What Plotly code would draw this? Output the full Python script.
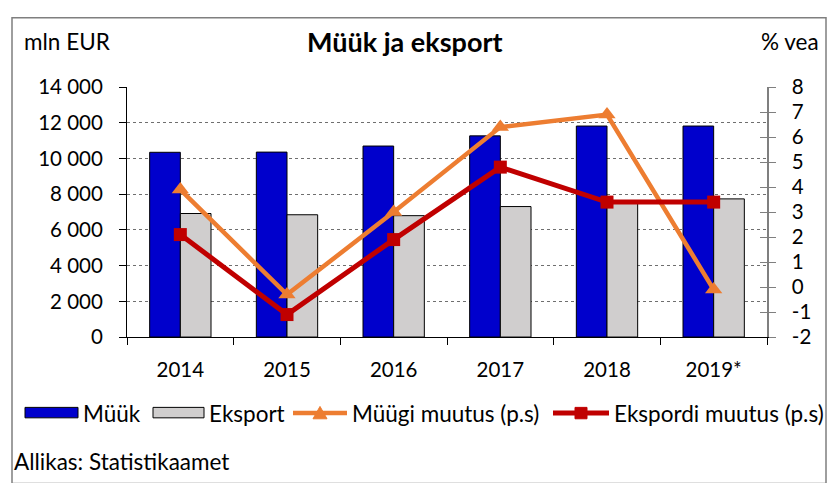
import plotly.graph_objects as go

years = ["2014", "2015", "2016", "2017", "2018", "2019*"]
muuk = [10350, 10360, 10700, 11270, 11820, 11820]
eksport = [6920, 6850, 6800, 7310, 7500, 7740]
muugi_muutus = [3.9, -0.3, 3.0, 6.4, 6.9, -0.1]
ekspordi_muutus = [2.1, -1.1, 1.9, 4.8, 3.4, 3.4]

left_ticks = [0, 2000, 4000, 6000, 8000, 10000, 12000, 14000]
left_ticktext = ["0", "2 000", "4 000", "6 000", "8 000", "10 000", "12 000", "14 000"]
right_ticks = [-2, -1, 0, 1, 2, 3, 4, 5, 6, 7, 8]
right_ticktext = ["-2", "-1", "0", "1", "2", "3", "4", "5", "6", "7", "8"]

W, H = 830, 483
FONT = "Lato"
TXT = 22.5
NUM = 20.5
BLUE = "#0000CC"
GRAY = "#D0CECE"
ORANGE = "#ED7D31"
RED = "#C00000"


def px(x):
    return x / W


def py(y):
    return 1 - y / H


fig = go.Figure()
fig.add_trace(go.Bar(x=years, y=muuk, name="Müük", marker=dict(color=BLUE, line=dict(color="#000000", width=1))))
fig.add_trace(go.Bar(x=years, y=eksport, name="Eksport", marker=dict(color=GRAY, line=dict(color="#000000", width=1))))
fig.add_trace(go.Scatter(x=years, y=muugi_muutus, name="Müügi muutus (p.s)", yaxis="y2", mode="lines+markers",
                         line=dict(color=ORANGE, width=4.5),
                         marker=dict(symbol="triangle-up", size=15, color=ORANGE)))
fig.add_trace(go.Scatter(x=years, y=ekspordi_muutus, name="Ekspordi muutus (p.s)", yaxis="y2", mode="lines+markers",
                         line=dict(color=RED, width=5),
                         marker=dict(symbol="square", size=13, color=RED)))
# invisible trace to display inside ticks on the right axis
fig.add_trace(go.Scatter(x=years, y=ekspordi_muutus, yaxis="y3", mode="none", showlegend=False, hoverinfo="skip"))

dom_x = [px(127), px(767)]
dom_y = [py(341), py(78)]

fig.update_layout(
    width=W, height=H,
    margin=dict(l=0, r=0, t=0, b=0),
    paper_bgcolor="white", plot_bgcolor="white",
    showlegend=False,
    barmode="group", bargap=0.425, bargroupgap=0,
    font=dict(family=FONT, size=NUM, color="#000000"),
    xaxis=dict(domain=dom_x, type="category", range=[-0.5, 5.5],
               showline=True, linecolor="#000000", linewidth=1,
               ticks="outside", tickson="boundaries", ticklen=7, tickcolor="#000000",
               showgrid=False, ticklabelstandoff=14,
               tickfont=dict(family=FONT, size=NUM)),
    yaxis=dict(domain=dom_y, range=[0, 14000], tickvals=left_ticks, ticktext=left_ticktext,
               showline=True, linecolor="#000000", linewidth=1,
               ticks="outside", ticklen=7, tickcolor="#000000",
               showgrid=True, gridcolor="#6f6f6f", griddash="dot", gridwidth=1,
               zeroline=False, ticklabelstandoff=12,
               tickfont=dict(family=FONT, size=NUM)),
    yaxis2=dict(overlaying="y", side="right", range=[-2, 8], tickvals=right_ticks, ticktext=right_ticktext,
                showline=True, linecolor="#7f7f7f", linewidth=1.5,
                ticks="outside", ticklen=7, tickcolor="#7f7f7f",
                showgrid=False, zeroline=False, ticklabelstandoff=12,
                tickfont=dict(family=FONT, size=NUM)),
    yaxis3=dict(overlaying="y", side="right", range=[-2, 8], tickvals=right_ticks,
                showline=False, ticks="inside", ticklen=7, tickcolor="#7f7f7f",
                showticklabels=False, showgrid=False, zeroline=False),
)

shapes = []
annotations = []

# outer frame
shapes.append(dict(type="rect", xref="paper", yref="paper", x0=px(12), x1=px(826), y0=py(5), y1=py(495),
                   line=dict(color="#7f7f7f", width=1.5), fillcolor="rgba(0,0,0,0)"))

# headers
annotations.append(dict(text="<b>Müük ja eksport</b>", x=px(405), y=py(30), xref="paper", yref="paper",
                        showarrow=False, xanchor="center", yanchor="middle", font=dict(family=FONT, size=27)))
annotations.append(dict(text="mln EUR", x=px(22), y=py(30), xref="paper", yref="paper",
                        showarrow=False, xanchor="left", yanchor="middle", font=dict(family=FONT, size=TXT)))
annotations.append(dict(text="% vea", x=px(821), y=py(30), xref="paper", yref="paper",
                        showarrow=False, xanchor="right", yanchor="middle", font=dict(family=FONT, size=TXT)))

# custom legend
LY = 421
shapes.append(dict(type="rect", xref="paper", yref="paper", x0=px(25), x1=px(78), y0=py(LY - 6), y1=py(LY + 5),
                   fillcolor=BLUE, line=dict(color="#000000", width=1)))
annotations.append(dict(text="Müük", x=px(81), y=py(LY), xref="paper", yref="paper", showarrow=False,
                        xanchor="left", yanchor="middle", font=dict(family=FONT, size=TXT)))
shapes.append(dict(type="rect", xref="paper", yref="paper", x0=px(153), x1=px(204), y0=py(LY - 6), y1=py(LY + 5),
                   fillcolor=GRAY, line=dict(color="#000000", width=1)))
annotations.append(dict(text="Eksport", x=px(207), y=py(LY), xref="paper", yref="paper", showarrow=False,
                        xanchor="left", yanchor="middle", font=dict(family=FONT, size=TXT)))
shapes.append(dict(type="line", xref="paper", yref="paper", x0=px(293), x1=px(347), y0=py(LY), y1=py(LY),
                   line=dict(color=ORANGE, width=4.5)))
tx, ty = 320, LY
shapes.append(dict(type="path", xref="paper", yref="paper",
                   path=f"M {px(tx-7)},{py(ty+6)} L {px(tx+7)},{py(ty+6)} L {px(tx)},{py(ty-7)} Z",
                   fillcolor=ORANGE, line=dict(color=ORANGE, width=1)))
annotations.append(dict(text="Müügi muutus (p.s)", x=px(350), y=py(LY), xref="paper", yref="paper", showarrow=False,
                        xanchor="left", yanchor="middle", font=dict(family=FONT, size=TXT)))
shapes.append(dict(type="line", xref="paper", yref="paper", x0=px(553), x1=px(609), y0=py(LY), y1=py(LY),
                   line=dict(color=RED, width=5)))
shapes.append(dict(type="rect", xref="paper", yref="paper", x0=px(575), x1=px(587), y0=py(LY - 6), y1=py(LY + 6),
                   fillcolor=RED, line=dict(color=RED, width=1)))
annotations.append(dict(text="Ekspordi muutus (p.s)", x=px(612), y=py(LY), xref="paper", yref="paper", showarrow=False,
                        xanchor="left", yanchor="middle", font=dict(family=FONT, size=TXT)))

annotations.append(dict(text="Allikas: Statistikaamet", x=px(12), y=py(472), xref="paper", yref="paper",
                        showarrow=False, xanchor="left", yanchor="middle", font=dict(family=FONT, size=TXT)))

fig.update_layout(shapes=shapes, annotations=annotations)
fig.write_html("out.html", config={"displayModeBar": False},
               post_script="document.body.style.margin='0';document.body.style.overflow='hidden';")
